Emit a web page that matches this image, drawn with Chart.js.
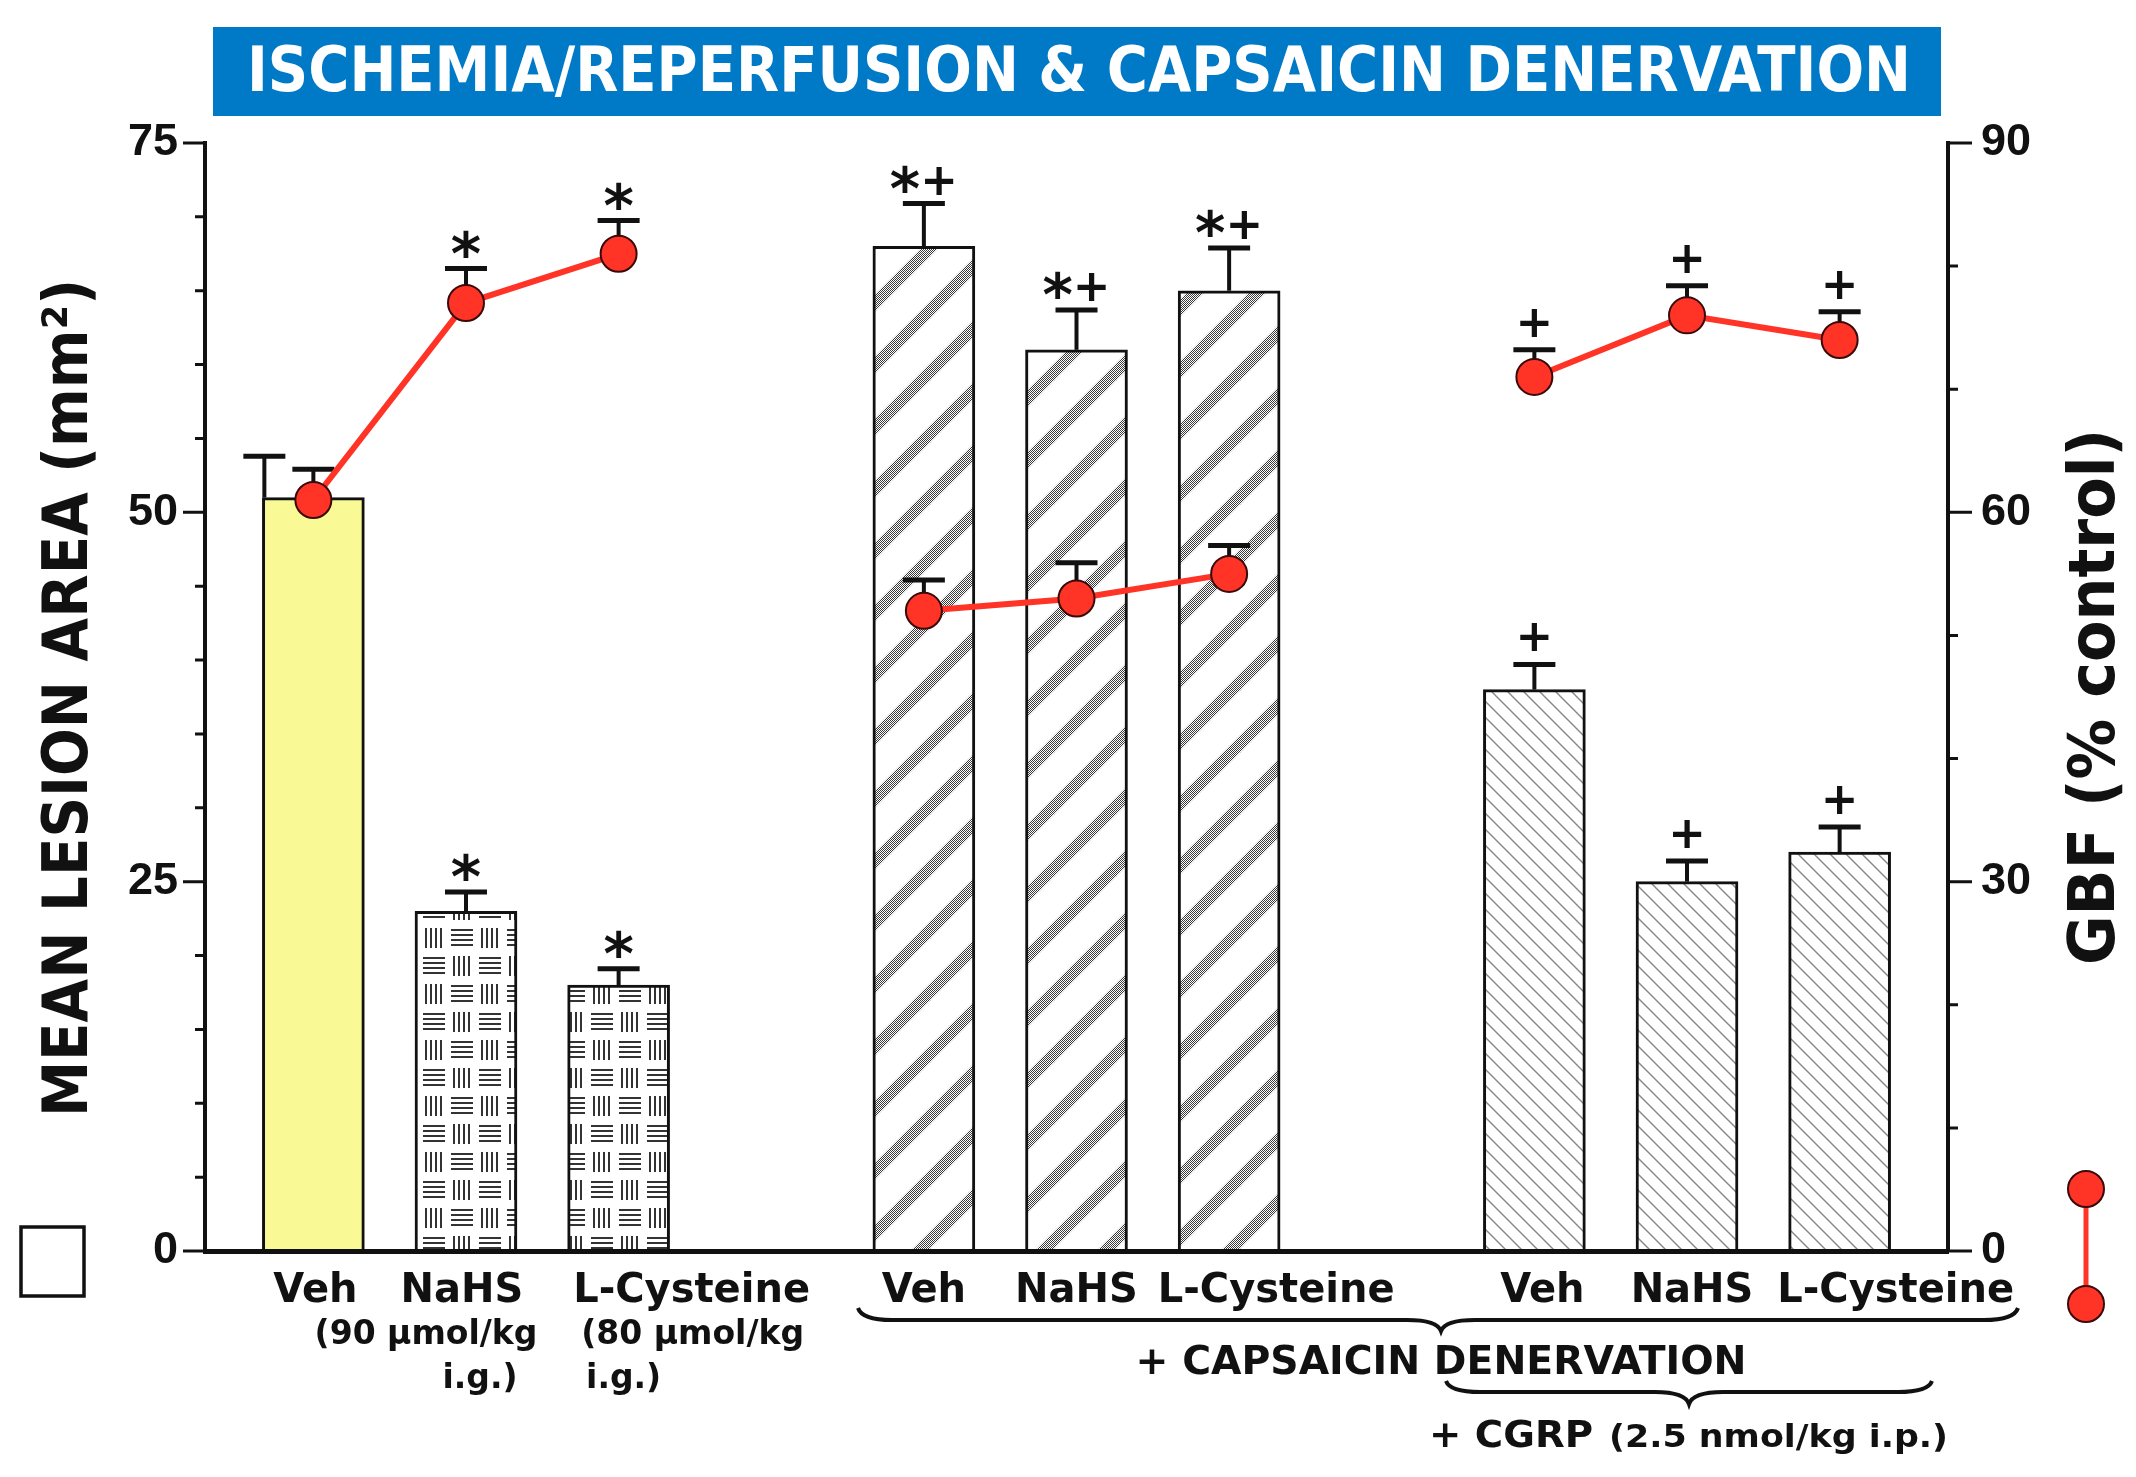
<!DOCTYPE html>
<html>
<head>
<meta charset="utf-8">
<title>Ischemia/Reperfusion &amp; Capsaicin Denervation</title>
<script src="https://cdn.jsdelivr.net/npm/chart.js@4.4.1/dist/chart.umd.min.js"></script>
<style>
  html, body { margin: 0; padding: 0; background: #fff; }
  #wrap { width: 2136px; height: 1477px; }
</style>
</head>
<body>
<div id="wrap"><canvas id="chart" width="2136" height="1477"></canvas></div>
<script>
// ---- data ----
const categories = ["Veh", "NaHS", "L-Cysteine", "Veh", "NaHS", "L-Cysteine", "Veh", "NaHS", "L-Cysteine"];
const lesionArea = [51, 23, 18, 68, 61, 65, 38, 25, 27];          // mm2, left axis
const lesionErr = [2.8, 1.3, 1.1, 2.9, 2.7, 2.9, 1.7, 1.4, 1.7];
const lesionMarks = ["", "*", "*", "*+", "*+", "*+", "+", "+", "+"];
const gbf = [61, 77, 81, 52, 53, 55, 71, 76, 74];                 // % control, right axis
const gbfErr = [2.5, 2.8, 2.7, 2.5, 2.9, 2.3, 2.2, 2.4, 2.3];
const gbfMarks = ["", "*", "*", "", "", "", "+", "+", "+"];
const lesionTicks = [0, 25, 50, 75];
const gbfTicks = [0, 30, 60, 90];
const doseNotes = [["(90 µmol/kg", "i.g.)"], ["(80 µmol/kg", "i.g.)"]];

const titleText = "ISCHEMIA/REPERFUSION & CAPSAICIN DENERVATION";
const leftTitle = "MEAN LESION AREA (mm²)";
const rightTitle = "GBF (% control)";
const capsaicinText = "+ CAPSAICIN DENERVATION";
const cgrpText = "+ CGRP";
const cgrpDose = "(2.5 nmol/kg i.p.)";

// three groups of three, one empty slot between groups
function slotOf(i) {
  return Math.floor(i / 3) * 4 + (i % 3);
}

// ---- fill patterns ----
function makeCanvas(w, h) {
  const c = document.createElement("canvas");
  c.width = w;
  c.height = h;
  return c;
}

function weavePattern() {
  const T = 56;
  const c = makeCanvas(T, T);
  const g = c.getContext("2d");
  g.fillStyle = "#fff";
  g.fillRect(0, 0, T, T);
  g.strokeStyle = "#333";
  g.lineWidth = 2;
  const cell = (cx, cy, vertical) => {
    g.beginPath();
    for (let k = 0; k < 4; k++) {
      if (vertical) {
        const x = cx + 6 + k * 5;
        g.moveTo(x, cy + 4);
        g.lineTo(x, cy + 24);
      } else {
        const y = cy + 6 + k * 5;
        g.moveTo(cx + 3, y);
        g.lineTo(cx + 25, y);
      }
    }
    g.stroke();
  };
  cell(0, 0, true);
  cell(28, 0, false);
  cell(0, 28, false);
  cell(28, 28, true);
  return g.createPattern(c, "repeat");
}

function stippleStripePattern() {
  const dots = makeCanvas(2, 2);
  const d = dots.getContext("2d");
  d.fillStyle = "#fff";
  d.fillRect(0, 0, 2, 2);
  d.fillStyle = "#3a3a3a";
  d.fillRect(0, 0, 1, 1);
  d.fillRect(1, 1, 1, 1);

  const W = 62;
  const H = 62;
  const c = makeCanvas(W, H);
  const g = c.getContext("2d");
  g.fillStyle = "#fff";
  g.fillRect(0, 0, W, H);
  g.strokeStyle = g.createPattern(dots, "repeat");
  g.lineWidth = 12;
  for (let k = -1; k <= 1; k++) {
    g.beginPath();
    g.moveTo(k * W - W * 0.3, H * 1.3);
    g.lineTo(k * W + W * 1.3, -H * 0.3);
    g.stroke();
  }
  return g.createPattern(c, "repeat");
}

function thinHatchPattern() {
  const T = 16;
  const c = makeCanvas(T, T);
  const g = c.getContext("2d");
  g.fillStyle = "#fff";
  g.fillRect(0, 0, T, T);
  g.strokeStyle = "#8a8a8a";
  g.lineWidth = 1.5;
  for (let k = -1; k <= 1; k++) {
    g.beginPath();
    g.moveTo(k * T - 5, -5);
    g.lineTo(k * T + T + 5, T + 5);
    g.stroke();
  }
  return g.createPattern(c, "repeat");
}

const weave = weavePattern();
const stripes = stippleStripePattern();
const hatch = thinHatchPattern();
const barFills = ["#f9f996", weave, weave, stripes, stripes, stripes, hatch, hatch, hatch];

// bar dataset and line dataset (null in the empty slots breaks the line)
const barPoints = lesionArea.map((v, i) => ({ x: slotOf(i), y: v }));
const gbfPoints = [];
for (let s = 0; s <= slotOf(categories.length - 1); s++) {
  const i = categories.findIndex((c, k) => slotOf(k) === s);
  gbfPoints.push({ x: s, y: i >= 0 ? gbf[i] : null });
}

// ---- drawing helpers ----
const INK = "#111";
const RED = "#ff3326";

function fitText(ctx, str, x, y, width) {
  const w = ctx.measureText(str).width;
  ctx.save();
  ctx.translate(x, y);
  ctx.scale(width / w, 1);
  ctx.fillText(str, 0, 0);
  ctx.restore();
}

function errorBar(ctx, x, yFrom, yTo) {
  ctx.strokeStyle = INK;
  ctx.lineWidth = 4;
  ctx.beginPath();
  ctx.moveTo(x, yFrom);
  ctx.lineTo(x, yTo);
  ctx.stroke();
  ctx.lineWidth = 5;
  ctx.beginPath();
  ctx.moveTo(x - 21, yTo);
  ctx.lineTo(x + 21, yTo);
  ctx.stroke();
}

function drawMark(ctx, str, cx, capY) {
  const parts = str.split("").map((ch) => ({
    ch,
    font: ch === "*" ? "bold 58px 'DejaVu Sans'" : "bold 45px 'DejaVu Sans'",
    dy: ch === "*" ? 5 : str.length > 1 ? -9 : -13,
  }));
  let total = 0;
  parts.forEach((p) => {
    ctx.font = p.font;
    p.w = ctx.measureText(p.ch).width;
    total += p.w;
  });
  let x = cx - total / 2;
  ctx.fillStyle = INK;
  ctx.textAlign = "left";
  ctx.textBaseline = "alphabetic";
  parts.forEach((p) => {
    ctx.font = p.font;
    ctx.fillText(p.ch, x, capY + p.dy);
    x += p.w;
  });
}

function brace(ctx, x0, x1, tipX, yEnd, yMid, yTip) {
  ctx.strokeStyle = INK;
  ctx.lineWidth = 4;
  ctx.beginPath();
  ctx.moveTo(x0, yEnd);
  ctx.quadraticCurveTo(x0 + 4, yMid, x0 + 34, yMid);
  ctx.lineTo(tipX - 34, yMid);
  ctx.quadraticCurveTo(tipX - 4, yMid, tipX, yTip);
  ctx.quadraticCurveTo(tipX + 4, yMid, tipX + 34, yMid);
  ctx.lineTo(x1 - 34, yMid);
  ctx.quadraticCurveTo(x1 - 4, yMid, x1, yEnd);
  ctx.stroke();
}

function barErrorX(chart, i) {
  const bar = chart.getDatasetMeta(0).data[i];
  const top = chart.scales.y.getPixelForValue(lesionArea[i]);
  const pt = chart.scales.y2.getPixelForValue(gbf[i]);
  // move the bar's error bar to its left edge when the GBF point sits on it
  return Math.abs(top - pt) < 60 ? bar.x - bar.width / 2 + 2 : bar.x;
}

// label nudges (px) so long labels clear their neighbours as in the figure
const labelDx = [2, -4, 73, 0, 0, 47, 8, 5, 56];
const doseDx = [[-40, 14], [74, 5]];

const decor = {
  id: "decor",
  afterDatasetDraw(chart, args) {
    if (args.index !== 0) return;
    const ctx = chart.ctx;
    const yL = chart.scales.y;
    const yR = chart.scales.y2;
    const xs = chart.scales.x;
    ctx.save();
    lesionArea.forEach((v, i) => {
      errorBar(ctx, barErrorX(chart, i), yL.getPixelForValue(v), yL.getPixelForValue(v + lesionErr[i]));
    });
    gbf.forEach((v, i) => {
      const x = xs.getPixelForValue(slotOf(i));
      errorBar(ctx, x, yR.getPixelForValue(v), yR.getPixelForValue(v + gbfErr[i]));
    });
    ctx.restore();
  },
  afterDraw(chart) {
    const ctx = chart.ctx;
    const area = chart.chartArea;
    const yL = chart.scales.y;
    const yR = chart.scales.y2;
    const xs = chart.scales.x;
    ctx.save();

    // tick marks, long at labelled values
    ctx.strokeStyle = INK;
    ctx.lineWidth = 3;
    ctx.beginPath();
    for (let v = 0; v <= 75; v += 5) {
      const y = yL.getPixelForValue(v);
      const len = lesionTicks.includes(v) ? 22 : 10;
      ctx.moveTo(area.left - len, y);
      ctx.lineTo(area.left, y);
    }
    for (let v = 0; v <= 90; v += 10) {
      const y = yR.getPixelForValue(v);
      const len = gbfTicks.includes(v) ? 24 : 10;
      ctx.moveTo(area.right, y);
      ctx.lineTo(area.right + len, y);
    }
    ctx.stroke();

    // significance marks
    lesionMarks.forEach((m, i) => {
      if (!m) return;
      drawMark(ctx, m, barErrorX(chart, i), yL.getPixelForValue(lesionArea[i] + lesionErr[i]));
    });
    gbfMarks.forEach((m, i) => {
      if (!m) return;
      drawMark(ctx, m, xs.getPixelForValue(slotOf(i)), yR.getPixelForValue(gbf[i] + gbfErr[i]));
    });

    // title banner
    ctx.fillStyle = "#0079c6";
    ctx.fillRect(213, 27, 1728, 89);
    ctx.fillStyle = "#fff";
    ctx.font = "bold 62px 'DejaVu Sans'";
    ctx.textAlign = "center";
    ctx.textBaseline = "alphabetic";
    fitText(ctx, titleText, 1079, 91, 1664);

    // axis titles (both read bottom to top)
    ctx.fillStyle = INK;
    ctx.save();
    ctx.translate(87, 698);
    ctx.rotate(-Math.PI / 2);
    ctx.font = "bold 63px 'DejaVu Sans'";
    fitText(ctx, leftTitle, 0, 0, 838);
    ctx.restore();
    ctx.save();
    ctx.translate(2114, 697);
    ctx.rotate(-Math.PI / 2);
    ctx.font = "bold 64px 'DejaVu Sans'";
    fitText(ctx, rightTitle, 0, 0, 536);
    ctx.restore();

    // category labels
    ctx.font = "bold 40px 'DejaVu Sans'";
    categories.forEach((c, i) => {
      ctx.fillText(c, xs.getPixelForValue(slotOf(i)) + labelDx[i], 1302);
    });
    ctx.font = "bold 33px 'DejaVu Sans'";
    doseNotes.forEach((lines, k) => {
      const x = xs.getPixelForValue(slotOf(k + 1));
      ctx.fillText(lines[0], x + doseDx[k][0], 1344);
      ctx.fillText(lines[1], x + doseDx[k][1], 1388);
    });

    // group braces and captions
    brace(ctx, 858, 2018, 1441, 1308, 1320, 1331);
    ctx.font = "bold 39px 'DejaVu Sans'";
    fitText(ctx, capsaicinText, 1441, 1374, 611);
    brace(ctx, 1446, 1932, 1689, 1381, 1392, 1404);
    ctx.textAlign = "left";
    ctx.font = "bold 38px 'DejaVu Sans'";
    fitText(ctx, cgrpText, 1429, 1447, 164);
    ctx.font = "bold 32px 'DejaVu Sans'";
    fitText(ctx, cgrpDose, 1609, 1447, 339);

    // legend keys: open box for lesion bars, red dots for GBF
    ctx.strokeStyle = INK;
    ctx.lineWidth = 3.5;
    ctx.fillStyle = "#fff";
    ctx.fillRect(21, 1227, 63, 69);
    ctx.strokeRect(21, 1227, 63, 69);
    ctx.strokeStyle = RED;
    ctx.lineWidth = 5;
    ctx.beginPath();
    ctx.moveTo(2086, 1189);
    ctx.lineTo(2086, 1304);
    ctx.stroke();
    [1189, 1304].forEach((y) => {
      ctx.beginPath();
      ctx.arc(2086, y, 18, 0, Math.PI * 2);
      ctx.fillStyle = RED;
      ctx.fill();
      ctx.lineWidth = 2;
      ctx.strokeStyle = "#3a0a0a";
      ctx.stroke();
    });
    ctx.restore();
  },
};

const tickFont = { family: "'Liberation Sans', Arial, sans-serif", weight: "bold", size: 45 };

new Chart(document.getElementById("chart").getContext("2d"), {
  type: "bar",
  data: {
    datasets: [
      {
        type: "bar",
        label: "Mean lesion area",
        data: barPoints,
        backgroundColor: barFills,
        borderColor: INK,
        borderWidth: 3,
        borderSkipped: "start",
        barThickness: 102,
        yAxisID: "y",
        order: 2,
      },
      {
        type: "line",
        label: "GBF",
        data: gbfPoints,
        yAxisID: "y2",
        borderColor: RED,
        borderWidth: 6,
        tension: 0,
        spanGaps: false,
        pointRadius: 18,
        pointHoverRadius: 18,
        pointBackgroundColor: RED,
        pointBorderColor: "#3a0a0a",
        pointBorderWidth: 2,
        order: 1,
      },
    ],
  },
  options: {
    responsive: false,
    animation: false,
    devicePixelRatio: 1,
    events: [],
    layout: { padding: { top: 143, left: 0, right: 0, bottom: 0 } },
    plugins: {
      legend: { display: false },
      tooltip: { enabled: false },
    },
    scales: {
      x: {
        type: "linear",
        min: -0.71,
        max: 10.71,
        offset: false,
        grid: { display: false, drawTicks: false, z: 1 },
        border: { display: true, color: INK, width: 5, z: 1 },
        ticks: { display: false },
        afterFit(scale) {
          scale.height = 226;
        },
      },
      y: {
        position: "left",
        min: 0,
        max: 75,
        grid: { display: false, drawTicks: false },
        border: { display: true, color: INK, width: 4 },
        ticks: {
          stepSize: 5,
          autoSkip: false,
          padding: 27,
          color: INK,
          font: tickFont,
          callback: (v) => (lesionTicks.includes(v) ? v : ""),
        },
        afterFit(scale) {
          scale.width = 205;
        },
      },
      y2: {
        position: "right",
        min: 0,
        max: 90,
        grid: { display: false, drawTicks: false },
        border: { display: true, color: INK, width: 4 },
        ticks: {
          stepSize: 10,
          autoSkip: false,
          padding: 33,
          color: INK,
          font: tickFont,
          callback: (v) => (gbfTicks.includes(v) ? v : ""),
        },
        afterFit(scale) {
          scale.width = 188;
        },
      },
    },
  },
  plugins: [decor],
});
</script>
</body>
</html>
